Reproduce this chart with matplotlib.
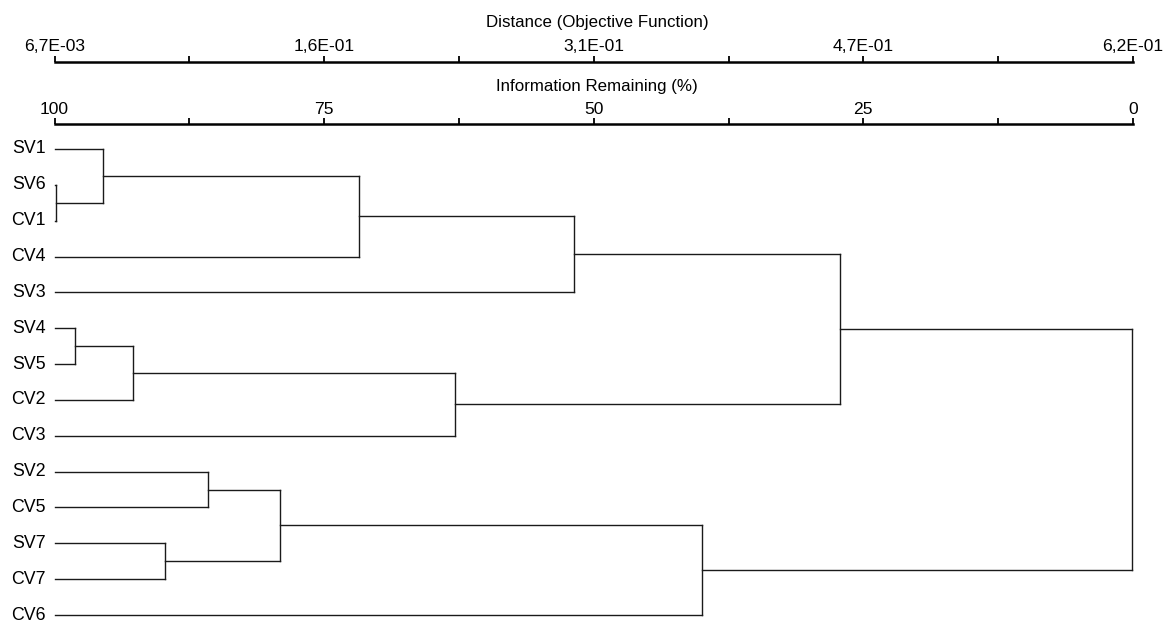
import numpy as np
import matplotlib
matplotlib.use("Agg")
import matplotlib.pyplot as plt

plt.rcParams['font.family'] = ['Liberation Sans', 'DejaVu Sans']

# leaves in display order (top to bottom)
leaves = ['SV1', 'SV6', 'CV1', 'CV4', 'SV3', 'SV4', 'SV5', 'CV2', 'CV3',
          'SV2', 'CV5', 'SV7', 'CV7', 'CV6']

# agglomeration steps: children ids (leaves 0..13, new clusters from 14)
merge_a = [1, 5, 0, 15, 11, 9, 19, 16, 17, 21, 20, 23, 25]
merge_b = [2, 6, 14, 7, 12, 10, 18, 3, 8, 4, 13, 22, 24]
# information remaining (%) at each fusion
merge_info = [99.9, 98.1, 95.5, 92.7, 89.8, 85.8, 79.1, 71.8, 62.9, 51.8,
              40.0, 27.2, 0.1]

dist_min, dist_max = 6.7e-03, 6.2e-01

W, H = 1164, 623
fig = plt.figure(figsize=(W / 100, H / 100), dpi=100)
x0, x1 = 54.5, 1133.0
left, width = x0 / W, (x1 - x0) / W

# dendrogram body
step = 35.85
y_first, top_px = 149.0, 131.0
ax = fig.add_axes([left, 0, width, 1 - top_px / H])
ax.set_xlim(100, 0)
n = len(leaves)
ax.set_ylim(n - 1 + (H - (y_first + (n - 1) * step)) / step,
            -(y_first - top_px) / step)
ax.axis('off')

node_x = {i: 100.0 for i in range(n)}
node_y = {i: float(i) for i in range(n)}
lc = '#1a1a1a'
for k, (a, b, info) in enumerate(zip(merge_a, merge_b, merge_info)):
    ya, yb = node_y[a], node_y[b]
    ax.plot([info, info], [ya, yb], color=lc, lw=1.0, clip_on=False)
    ax.plot([node_x[a], info], [ya, ya], color=lc, lw=1.0, clip_on=False)
    ax.plot([node_x[b], info], [yb, yb], color=lc, lw=1.0, clip_on=False)
    node_x[n + k] = info
    node_y[n + k] = (ya + yb) / 2

for i, name in enumerate(leaves):
    ax.text(100.85, i, name, ha='right', va='center', fontsize=12.8)


def top_scale(y_px, lim, ticks, labels):
    s = fig.add_axes([left, 1 - y_px / H, width, 0.0001])
    s.set_xlim(*lim)
    for side in ['left', 'right', 'bottom']:
        s.spines[side].set_visible(False)
    s.spines['top'].set_linewidth(1.8)
    s.set_yticks([])
    s.xaxis.tick_top()
    s.set_xticks(ticks)
    s.set_xticklabels(labels, fontsize=12.6)
    s.tick_params(axis='x', direction='out', length=4.5, width=1.3, pad=1.2)
    return s


dist_ticks = np.linspace(dist_min, dist_max, 9)
dist_labels = [f"{v:.1E}".replace('.', ',') if i % 2 == 0 else ''
               for i, v in enumerate(dist_ticks)]
top_scale(61.7, (dist_min, dist_max), dist_ticks, dist_labels)

info_ticks = np.linspace(100, 0, 9)
info_labels = [f"{v:g}" if i % 2 == 0 else '' for i, v in enumerate(info_ticks)]
top_scale(124.5, (100, 0), info_ticks, info_labels)

cx = left + width / 2 + 0.003
fig.text(cx, 1 - 23 / H, 'Distance (Objective Function)', ha='center',
         va='center', fontsize=12.2)
fig.text(cx, 1 - 86 / H, 'Information Remaining (%)', ha='center',
         va='center', fontsize=12.2)

fig.savefig('out.png', dpi=100)
